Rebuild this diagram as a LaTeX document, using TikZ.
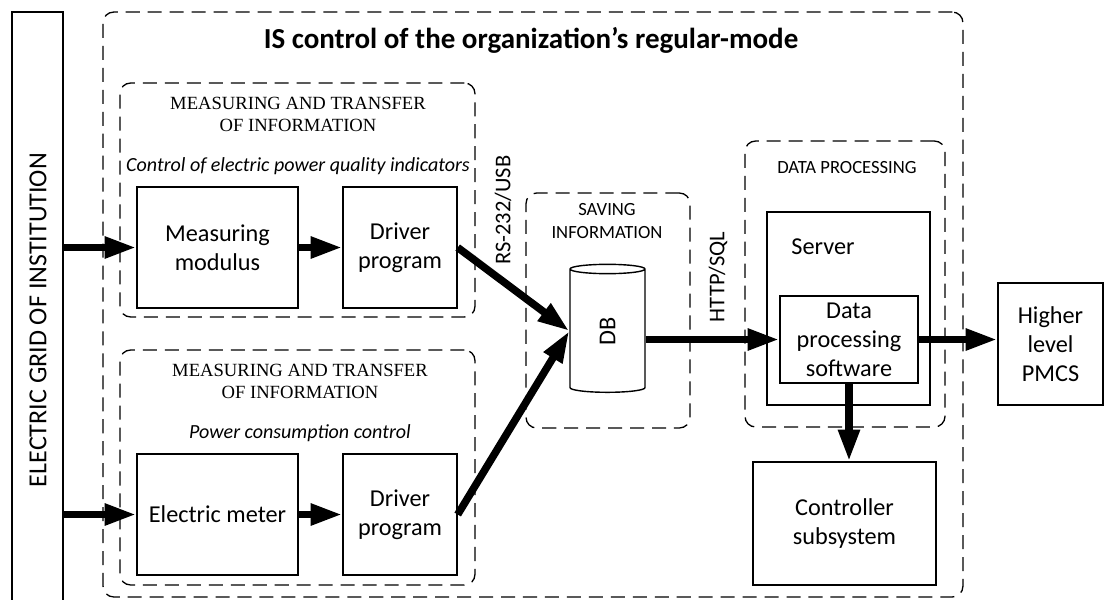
\documentclass[tikz,border=0pt]{standalone}
\usepackage{fontspec}
\setmainfont{Carlito}
\newfontfamily\timesrm{Liberation Serif}
\usetikzlibrary{arrows.meta,shapes.geometric}

\begin{document}
\begin{tikzpicture}[
  x=0.02cm, y=-0.02cm,
  box/.style={draw, line width=0.8pt, inner sep=0pt, align=center, font=\fontsize{13.8}{16.4}\selectfont},
  group/.style={draw, line width=0.75pt, dash pattern=on 8pt off 4.5pt, rounded corners=6pt, inner sep=0pt},
  heading/.style={align=center, font=\timesrm\fontsize{10.6}{12.6}\selectfont},
  subhead/.style={font=\itshape\fontsize{11.4}{13}\selectfont},
  caption/.style={align=center, font=\fontsize{10.6}{13}\selectfont},
  link/.style={line width=4.3pt, -{Triangle[length=18pt,width=11.5pt]}},
  port/.style={rotate=90, font=\fontsize{12.8}{14}\selectfont}
]
\useasboundingbox (0,0) rectangle (1105,599);

\node [group, minimum width=17.2cm, minimum height=11.7cm] (outer) at (533,304.5) {};
\node [group, minimum width=7.1cm, minimum height=4.68cm] (grpA) at (297.5,200) {};
\node [group, minimum width=7.1cm, minimum height=4.7cm] (grpB) at (297.5,467.5) {};
\node [group, minimum width=3.28cm, minimum height=4.7cm] (save) at (608,310.5) {};
\node [group, minimum width=4cm, minimum height=5.72cm] (proc) at (845,284) {};

\node [box, minimum width=1.02cm, minimum height=11.86cm] (grid) at (37.5,308.5) {};
\node [rotate=90, font=\fontsize{14.8}{16}\selectfont] (gridtext) at (38,320) {ELECTRIC GRID OF INSTITUTION};

\node [font=\bfseries\fontsize{16.5}{18}\selectfont] (title) at (531,40) {IS control of the organization’s regular-mode};

\node [heading] (headA) at (298,114) {MEASURING AND TRANSFER\\OF INFORMATION};
\node [subhead] (subA) at (298,166) {Control of electric power quality indicators};
\node [box, minimum width=3.22cm, minimum height=2.42cm] (meas) at (217.5,247.5) {Measuring\\modulus};
\node [box, minimum width=2.28cm, minimum height=2.42cm] (drvA) at (400,247.5) {Driver\\program};

\node [heading] (headB) at (300,381) {MEASURING AND TRANSFER\\OF INFORMATION};
\node [subhead] (subB) at (300,433) {Power consumption control};
\node [box, minimum width=3.22cm, minimum height=2.42cm] (meter) at (217.5,514.5) {Electric meter};
\node [box, minimum width=2.28cm, minimum height=2.42cm] (drvB) at (400,514.5) {Driver\\program};

\node [caption] (savetext) at (607,221) {SAVING\\INFORMATION};
\node [cylinder, draw, line width=0.8pt, shape border rotate=90, aspect=0.6, minimum width=1.5cm, minimum height=2.56cm, inner sep=0pt, font=\fontsize{13.8}{15}\selectfont] (db) at (607.5,331) {\rotatebox{90}{DB}};

\node [port] (rs) at (503,210) {RS-232/USB};
\node [port] (http) at (718,277) {HTTP/SQL};

\node [caption] (proctext) at (847,168) {DATA PROCESSING};
\node [box, minimum width=3.26cm, minimum height=3.86cm] (server) at (848.5,308.5) {};
\node [font=\fontsize{13.8}{15}\selectfont] (servertext) at (823,247) {Server};
\node [box, minimum width=2.76cm, minimum height=1.74cm] (soft) at (849,339.5) {Data\\processing\\software};

\node [box, minimum width=2.1cm, minimum height=2.44cm] (pmcs) at (1050.5,344) {Higher\\level\\PMCS};
\node [box, minimum width=3.66cm, minimum height=2.46cm] (ctrl) at (844.5,523.5) {Controller\\subsystem};

\draw [link] (meas.west -| grid.east) -- (meas.west);
\draw [link] (meter.west -| grid.east) -- (meter.west);
\draw [link] (meas) -- (drvA);
\draw [link] (meter) -- (drvB);
\draw [link] (drvA.east) -- (db.west);
\draw [link] (drvB.east) -- (db.west);
\draw [link] (db.east |- soft.west) -- (soft.west);
\draw [link] (soft.east) -- (soft.east -| pmcs.west);
\draw [link] (soft.south) -- (soft.south |- ctrl.north);

\end{tikzpicture}
\end{document}
